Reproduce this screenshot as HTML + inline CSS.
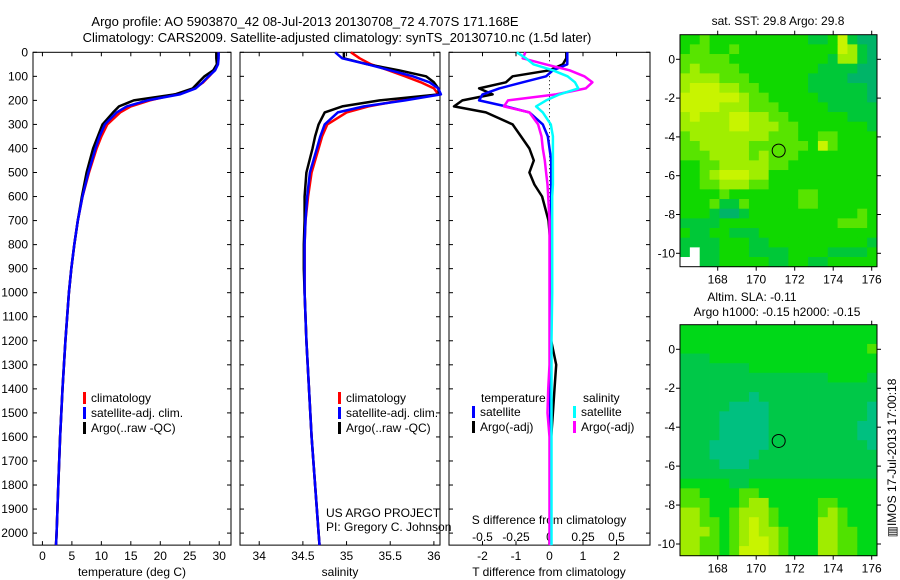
<!DOCTYPE html>
<html><head><meta charset="utf-8"><style>
body{margin:0;background:#fff}
svg{display:block;font-family:"Liberation Sans",sans-serif;font-size:12px}
</style></head><body>
<svg id="c" width="900" height="580" viewBox="0 0 900 580">
<text x="305" y="26" text-anchor="middle" font-size="13">Argo profile: AO 5903870_42 08-Jul-2013 20130708_72 4.707S 171.168E</text>
<text x="337" y="42" text-anchor="middle" font-size="13">Climatology: CARS2009. Satellite-adjusted climatology: synTS_20130710.nc (1.5d later)</text>
<g id="g"></g>
<text x="0" y="0" transform="translate(896,458) rotate(-90)" text-anchor="middle">▥IMOS 17-Jul-2013 17:00:18</text>
</svg>
<script>
// ---- data ----
const depthTS=[0,25,50,75,100,125,150,175,200,225,250,300,350,400,500,600,700,800,900,1000,1200,1400,1600,1800,2000,2050];
const tempClim=[29.8,29.8,29.7,29.2,28.3,27.3,25.8,22.5,18.2,15,13.2,11,10,9.2,7.9,6.8,6.0,5.4,4.9,4.5,3.9,3.4,3.0,2.7,2.4,2.3];
const tempSat=[29.9,29.9,29.8,29.3,28.2,27.2,26,23.3,17.8,14.3,12.6,10.6,9.7,9.0,7.8,6.8,6.0,5.4,4.9,4.5,3.9,3.4,3.0,2.7,2.4,2.3];
const tempArgo=[29.5,29.5,29.6,29.0,27.5,26.5,25.5,22.5,15.5,13,12,10.2,9.4,8.6,7.5,6.7,6.0,5.4,4.9,4.5,3.9,3.4,3.0,2.7,2.4,2.3];
const salClim=[35.05,35.15,35.28,35.48,35.67,35.85,36.0,36.05,35.62,35.25,35.0,34.78,34.72,34.68,34.6,34.56,34.53,34.52,34.52,34.52,34.54,34.57,34.6,34.64,34.68,34.69];
const salSat=[34.87,34.95,35.24,35.5,35.76,35.95,36.05,36.08,35.67,35.2,34.9,34.75,34.7,34.66,34.58,34.55,34.53,34.52,34.52,34.52,34.54,34.57,34.6,34.64,34.68,34.69];
const salArgo=[34.97,34.97,35.24,35.6,35.91,36.0,36.05,36.06,35.38,34.95,34.75,34.68,34.64,34.61,34.54,34.52,34.52,34.51,34.51,34.52,34.54,34.57,34.6,34.64,34.68,34.69];
const depthDiff=[0,25,50,75,100,125,150,175,200,225,250,300,350,400,450,500,550,600,700,800,1000,1200,1300,1400,1500,1600,1800,2050];
const dTArgo=[0.5,0.5,0.4,0.0,-1.1,-1.3,-2.1,-1.7,-2.6,-2.85,-1.9,-1.1,-0.85,-0.6,-0.47,-0.6,-0.45,-0.22,-0.03,0.03,0.02,0.05,0.2,0.15,0.1,0.05,0.03,0.0];
const dTSat=[0.53,0.53,0.53,0.1,-0.1,-0.8,-1.5,-2.0,-2.1,-1.3,-0.6,-0.2,-0.05,0.0,0.05,0.05,0.05,0.05,0.05,0.03,0.02,0.02,0.02,0.02,0.02,0.02,0.02,0.02];
const dSArgo=[-0.18,-0.2,-0.03,0.15,0.26,0.32,0.27,0.05,-0.31,-0.34,-0.15,-0.085,-0.06,-0.05,-0.035,-0.025,-0.015,-0.01,0,0,0,0,0,-0.01,-0.015,0,0,0];
const dSSat=[-0.245,-0.175,-0.12,0.025,0.135,0.19,0.215,0.075,-0.025,-0.1,-0.05,0.01,0.025,0.025,0.025,0.025,0.025,0.02,0.02,0.02,0.02,0.015,0.015,0.015,0.015,0.015,0.015,0.015];
const depthTicks=[0,100,200,300,400,500,600,700,800,900,1000,1100,1200,1300,1400,1500,1600,1700,1800,1900,2000];
const tempTicks=[0,5,10,15,20,25,30];
const salTicks=[34,34.5,35,35.5,36];
const salTickLabels=["34","34.5","35","35.5","36"];
const dTTicks=[-2,-1,0,1,2];
const dSTicks=[-0.5,-0.25,0,0.25,0.5];
const sstRows=["22322222222221125100","23322322222222225410","33333222222222214410","34333322222222111100","44443332222221111000","45554433222221111110","55555543322222111110","55554443332222211111","45444554433222222111","44444554443322222221","34444444433322332222","33444443333332532222","33344443433322222222","22334444433222222222","22345554422222222222","22334443322222222222","22223222222233222222","22231132222233222222","22210012222222222232","11112222222222223332","21122111222222222222","11112221122222222221","1W112221111222211112","WW112222211221122222"];
const slaRows=["22222222222222222222","22222222222222222222","22222222222222222223","11122222222222222222","11111112222222222222","11111111111111122221","11111111111111111111","11111110111111111111","11111000011111111110","11110000011111111110","11110000011111111100","11110000011111111100","11100000011111111110","11100000111111111111","11110001111111111111","11111111111111111111","22222112222222222222","33222233222222222222","33322234422222332222","44322344432222343222","44332345432222443222","44432345443222443322","44332345543222443322","44332355543222443322"];
const mapLonTicks=[168,170,172,174,176];
const mapLatTicks=[0,-2,-4,-6,-8,-10];
const argoLon=171.168, argoLat=-4.707;
// ---- drawing ----
const NS="http://www.w3.org/2000/svg", G=document.getElementById('g');
function mk(t,a,p){const e=document.createElementNS(NS,t);for(const k in a)e.setAttribute(k,a[k]);(p||G).appendChild(e);return e;}
const top0=52.3, ppm=0.2404;
const yD=d=>top0+d*ppm;
const yBot=yD(2050);
const panels=[{x0:33,x1:231,lo:-1.6,hi:32},{x0:240,x1:440,lo:33.78,hi:36.07},{x0:449,x1:650,lo:-3,hi:3}];
panels.forEach((p,i)=>{p.f=v=>p.x0+(v-p.lo)/(p.hi-p.lo)*(p.x1-p.x0);
 const r=mk('rect',{x:p.x0,y:top0,width:p.x1-p.x0,height:yBot-top0,fill:'none',stroke:'#000'});
 
 
 depthTicks.forEach(d=>{mk('line',{x1:p.x0,x2:p.x0+4,y1:yD(d),y2:yD(d),stroke:'#000'});mk('line',{x1:p.x1,x2:p.x1-4,y1:yD(d),y2:yD(d),stroke:'#000'});});
});
depthTicks.forEach(d=>{const t=mk('text',{x:28,y:yD(d)+4,'text-anchor':'end'});t.textContent=d;
 
 });
function xticks(p,vals,labels,y){vals.forEach((v,i)=>{const x=p.f(v);mk('line',{x1:x,x2:x,y1:yBot,y2:yBot-4,stroke:'#000'});mk('line',{x1:x,x2:x,y1:top0,y2:top0+4,stroke:'#000'});
 const t=mk('text',{x:x,y:y,'text-anchor':'middle'});t.textContent=labels[i];
 
 });}
xticks(panels[0],tempTicks,tempTicks.map(String),560);
xticks(panels[1],salTicks,salTickLabels,560);
xticks(panels[2],dTTicks,dTTicks.map(String),560);
const pS={f:v=>panels[2].f(v*4)};
dSTicks.forEach(v=>{const t=mk('text',{x:pS.f(v),y:541,'text-anchor':'middle'});t.textContent=String(v);
 
 });
function txt(x,y,s,name,anchor){const t=mk('text',{x:x,y:y,'text-anchor':anchor||'start'});t.textContent=s;return t;}
txt(132,576,'temperature (deg C)','x-axis-title-temperature','middle');
txt(340,576,'salinity','x-axis-title-salinity','middle');
txt(549,576,'T difference from climatology','x-axis-title-t-diff','middle');
txt(549,524,'S difference from climatology','x-axis-title-s-diff','middle');
txt(326,517,'US ARGO PROJECT','project-label');
txt(326,531,'PI: Gregory C. Johnson','pi-label');
mk('line',{x1:panels[2].f(0),x2:panels[2].f(0),y1:top0,y2:yBot,stroke:'#000','stroke-dasharray':'1,3'});
function line(depths,vals,fx,color,name){const d=vals.map((v,i)=>(i?'L':'M')+fx(v).toFixed(1)+','+yD(depths[i]).toFixed(1)).join('');
 const e=mk('path',{d:d,fill:'none',stroke:color,'stroke-width':2.5,'stroke-linejoin':'round'});
 
 }
line(depthTS,tempClim,panels[0].f,'#f00','temp-climatology-line');
line(depthTS,tempArgo,panels[0].f,'#000','temp-argo-line');
line(depthTS,tempSat,panels[0].f,'#00f','temp-satellite-line');
line(depthTS,salClim,panels[1].f,'#f00','sal-climatology-line');
line(depthTS,salArgo,panels[1].f,'#000','sal-argo-line');
line(depthTS,salSat,panels[1].f,'#00f','sal-satellite-line');
line(depthDiff,dTArgo,panels[2].f,'#000','t-diff-argo-line');
line(depthDiff,dTSat,panels[2].f,'#00f','t-diff-satellite-line');
line(depthDiff,dSArgo,pS.f,'#f0f','s-diff-argo-line');
line(depthDiff,dSSat,pS.f,'#0ff','s-diff-satellite-line');
function leg(x,y,color,label){mk('rect',{x:x,y:y-10,width:3,height:12,fill:color});txt(x+8,y,label,'legend-entry');}
[['#f00','climatology'],['#00f','satellite-adj. clim.'],['#000','Argo(..raw -QC)']].forEach((l,i)=>{leg(83,402+i*15,l[0],l[1]);leg(338,402+i*15,l[0],l[1]);});
txt(481,402,'temperature','legend-title-temperature');txt(583,402,'salinity','legend-title-salinity');
leg(472,416,'#00f','satellite');leg(472,431,'#000','Argo(-adj)');
leg(573,416,'#0ff','satellite');leg(573,431,'#f0f','Argo(-adj)');
// maps
const pal={'0':'#00b468','1':'#00c838','2':'#10d800','3':'#58e400','4':'#a0ee00','5':'#c8f400','W':'#fff'};
const palB={'0':'#00c080','1':'#00c848','2':'#00d818','3':'#50e200','4':'#a0ec00','5':'#c8f400'};
function map(rows,pl,mx0,mx1,my0,my1,lat0y,lat10y,name){
 const lonF=v=>717.7+(v-168)*(871.7-717.7)/8, latF=v=>lat0y+(-v)*(lat10y-lat0y)/10;
 const nr=rows.length,nc=rows[0].length,cw=(mx1-mx0)/nc,ch=(my1-my0)/nr;
 rows.forEach((r,i)=>{[...r].forEach((c,j)=>{const e=mk('rect',{x:(mx0+j*cw).toFixed(2),y:(my0+i*ch).toFixed(2),width:(cw+0.4).toFixed(2),height:(ch+0.4).toFixed(2),fill:pl[c]});
  
  });});
 const b=mk('rect',{x:mx0,y:my0,width:mx1-mx0,height:my1-my0,fill:'none',stroke:'#000'});
 
 
 mapLonTicks.forEach(v=>{mk('line',{x1:lonF(v),x2:lonF(v),y1:my0,y2:my0-4,stroke:'#000'});mk('line',{x1:lonF(v),x2:lonF(v),y1:my1,y2:my1+4,stroke:'#000'});txt(lonF(v),my1+17,String(v),'map-lon-tick-label','middle');});
 mapLatTicks.forEach(v=>{mk('line',{x1:mx0,x2:mx0-4,y1:latF(v),y2:latF(v),stroke:'#000'});mk('line',{x1:mx1,x2:mx1+4,y1:latF(v),y2:latF(v),stroke:'#000'});txt(675,latF(v)+4,String(v),'map-lat-tick-label','end');});
 const c=mk('circle',{cx:lonF(argoLon),cy:latF(argoLat),r:6.5,fill:'none',stroke:'#000'});
 
 
}
map(sstRows,pal,680,877,34.7,266.7,59.3,253.3,'sst-map');
map(slaRows,palB,680,877,324.7,555.7,349.3,544,'sla-map');
txt(778,25,'sat. SST: 29.8 Argo: 29.8','sst-map-title','middle');
txt(752,301,'Altim. SLA: -0.11','sla-map-title-1','middle');
txt(777,316,'Argo h1000: -0.15 h2000: -0.15','sla-map-title-2','middle');
</script>
</body></html>
